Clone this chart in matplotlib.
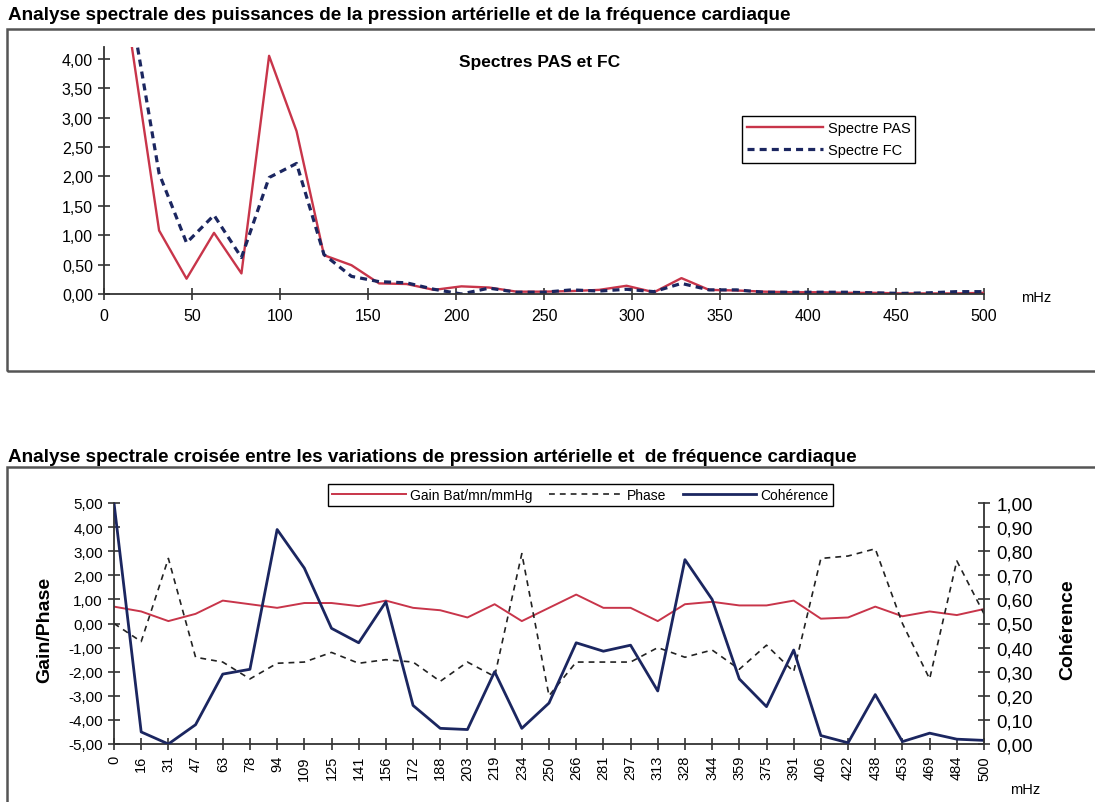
import matplotlib
matplotlib.use("Agg")
import matplotlib.pyplot as plt
from matplotlib.patches import Rectangle

plt.rcParams['font.family'] = ['Liberation Sans', 'DejaVu Sans']

# --- spectres de puissance (graphique du haut) ---
freq_mhz = [15.6, 31.3, 46.9, 62.5, 78.1, 93.8, 109.4, 125.0, 140.6, 156.3, 171.9, 187.5,
            203.1, 218.8, 234.4, 250.0, 265.6, 281.3, 296.9, 312.5, 328.1, 343.8, 359.4,
            375.0, 390.6, 406.3, 421.9, 437.5, 453.1, 468.8, 484.4, 500.0]
spectre_pas = [4.25, 1.08, 0.26, 1.04, 0.35, 4.05, 2.77, 0.66, 0.49, 0.18, 0.17, 0.07,
               0.13, 0.11, 0.04, 0.04, 0.05, 0.07, 0.14, 0.03, 0.27, 0.07, 0.06, 0.04,
               0.03, 0.03, 0.02, 0.02, 0.01, 0.01, 0.01, 0.02]
spectre_fc = [4.8, 2.05, 0.87, 1.34, 0.62, 1.98, 2.22, 0.67, 0.30, 0.21, 0.19, 0.08,
              0.0, 0.10, 0.03, 0.03, 0.07, 0.05, 0.08, 0.04, 0.18, 0.07, 0.07, 0.03,
              0.03, 0.03, 0.03, 0.02, 0.01, 0.02, 0.04, 0.04]

# --- analyse croisee (graphique du bas) ---
categories = ["0", "16", "31", "47", "63", "78", "94", "109", "125", "141", "156", "172",
              "188", "203", "219", "234", "250", "266", "281", "297", "313", "328", "344",
              "359", "375", "391", "406", "422", "438", "453", "469", "484", "500"]
gain = [0.7, 0.5, 0.1, 0.4, 0.95, 0.8, 0.65, 0.85, 0.85, 0.72, 0.95, 0.65, 0.55, 0.25,
        0.8, 0.1, 0.65, 1.2, 0.65, 0.65, 0.1, 0.8, 0.9, 0.75, 0.75, 0.95, 0.2, 0.25,
        0.7, 0.3, 0.5, 0.35, 0.6]
phase = [0.0, -0.75, 2.7, -1.4, -1.6, -2.3, -1.65, -1.6, -1.2, -1.65, -1.5, -1.6, -2.4,
         -1.6, -2.2, 2.9, -3.0, -1.6, -1.6, -1.6, -1.0, -1.4, -1.1, -1.9, -0.9, -2.0,
         2.7, 2.8, 3.1, 0.0, -2.3, 2.6, 0.4]
coherence = [1.0, 0.05, 0.0, 0.08, 0.29, 0.31, 0.89, 0.73, 0.48, 0.42, 0.59, 0.16, 0.065,
             0.06, 0.30, 0.065, 0.17, 0.42, 0.385, 0.41, 0.22, 0.765, 0.60, 0.27, 0.155,
             0.39, 0.035, 0.005, 0.205, 0.01, 0.045, 0.02, 0.015]

W, H = 1095, 803
RED = '#c8354a'
NAVY = '#1b2660'
AXC = '#333333'


def fx(px):
    return px / W


def fy(py):
    return 1 - py / H


def virgule(v):
    return f"{v:.2f}".replace('.', ',')


fig = plt.figure(figsize=(W / 100, H / 100), dpi=100)

# cadres des deux graphiques
for top, bottom in [(30, 372), (468, 812)]:
    fig.patches.append(Rectangle((fx(7), fy(bottom)), fx(1100) - fx(7), fy(top) - fy(bottom),
                                 transform=fig.transFigure, fill=False,
                                 edgecolor='#555555', linewidth=1.8, clip_on=False))

fig.text(fx(8), fy(15), "Analyse spectrale des puissances de la pression artérielle et de la fréquence cardiaque",
         fontsize=13.6, fontweight='bold', va='center', ha='left')
fig.text(fx(8), fy(457), "Analyse spectrale croisée entre les variations de pression artérielle et  de fréquence cardiaque",
         fontsize=13.6, fontweight='bold', va='center', ha='left')

# ---------------- graphique du haut ----------------
ax1 = fig.add_axes([fx(104), fy(295), fx(984) - fx(104), fy(48) - fy(295)])
ax1.plot(freq_mhz, spectre_pas, color=RED, linewidth=1.7, label='Spectre PAS')
ax1.plot(freq_mhz, spectre_fc, color=NAVY, linewidth=2.3, linestyle=(0, (2.2, 1.6)),
         label='Spectre FC')
ax1.set_xlim(0, 500)
ax1.set_ylim(0, 4.2)
ax1.set_yticks([0, 0.5, 1, 1.5, 2, 2.5, 3, 3.5, 4])
ax1.set_yticklabels([virgule(v) for v in ax1.get_yticks()])
ax1.set_xticks(range(0, 501, 50))
ax1.tick_params(direction='inout', length=8, width=1.2, color=AXC, labelsize=11.5, pad=4)
ax1.tick_params(axis='x', pad=6)
for s in ['top', 'right']:
    ax1.spines[s].set_visible(False)
for s in ['left', 'bottom']:
    ax1.spines[s].set_color(AXC)
    ax1.spines[s].set_linewidth(1.3)
ax1.patch.set_alpha(0)
fig.text(fx(1036), fy(298), "mHz", fontsize=10.5, va='center', ha='center')
fig.text(fx(540), fy(62), "Spectres PAS et FC", fontsize=12.5, fontweight='bold',
         va='center', ha='center')
leg1 = ax1.legend(loc='upper left', bbox_to_anchor=(fx(735), fy(110)),
                  bbox_transform=fig.transFigure, fontsize=10.5, handlelength=5.2,
                  handletextpad=0.3, borderpad=0.35, labelspacing=0.55,
                  fancybox=False, framealpha=1)
leg1.get_frame().set_edgecolor('black')
leg1.get_frame().set_linewidth(1.0)

# ---------------- graphique du bas ----------------
pos = list(range(len(categories)))
ax2 = fig.add_axes([fx(114), fy(745), fx(984) - fx(114), fy(504) - fy(745)])
l_gain, = ax2.plot(pos, gain, color=RED, linewidth=1.4, label='Gain Bat/mn/mmHg')
l_phase, = ax2.plot(pos, phase, color='#222222', linewidth=1.2, linestyle=(0, (3.5, 3)),
                    label='Phase')
ax2.set_xlim(0, len(categories) - 1)
ax2.set_ylim(-5, 5)
ax2.set_yticks(range(-5, 6))
ax2.set_yticklabels([virgule(v) for v in range(-5, 6)])
ax2.set_xticks(pos)
ax2.set_xticklabels(categories, rotation=90)
ax2.tick_params(direction='inout', length=8, width=1.2, color=AXC, labelsize=11, pad=4)
ax2.tick_params(axis='x', labelsize=10.5)
ax2.spines['top'].set_visible(False)
ax2.spines['right'].set_visible(False)
for s in ['left', 'bottom']:
    ax2.spines[s].set_color(AXC)
    ax2.spines[s].set_linewidth(1.3)

ax3 = ax2.twinx()
l_coh, = ax3.plot(pos, coherence, color=NAVY, linewidth=2.0, label='Cohérence')
ax3.set_ylim(0, 1)
ax3.set_yticks([i / 10 for i in range(11)])
ax3.set_yticklabels([virgule(i / 10) for i in range(11)])
ax3.tick_params(direction='inout', length=8, width=1.2, color=AXC, labelsize=13.5, pad=5)
ax3.spines['top'].set_visible(False)
ax3.spines['left'].set_visible(False)
ax3.spines['bottom'].set_visible(False)
ax3.spines['right'].set_color(AXC)
ax3.spines['right'].set_linewidth(1.3)

fig.text(fx(45), fy(630), "Gain/Phase", fontsize=14, fontweight='bold', rotation=90,
         va='center', ha='center')
fig.text(fx(1068), fy(630), "Cohérence", fontsize=14, fontweight='bold', rotation=90,
         va='center', ha='center')
fig.text(fx(1025), fy(790), "mHz", fontsize=10.5, va='center', ha='center')

leg2 = ax3.legend([l_gain, l_phase, l_coh], ['Gain Bat/mn/mmHg', 'Phase', 'Cohérence'],
                  loc='upper left', bbox_to_anchor=(fx(321), fy(478)),
                  bbox_transform=fig.transFigure, ncol=3, fontsize=10,
                  handlelength=5.3, handletextpad=0.3, columnspacing=1.2,
                  borderpad=0.3, fancybox=False, framealpha=1)
leg2.get_frame().set_edgecolor('black')
leg2.get_frame().set_linewidth(1.0)

fig.savefig("out.png", dpi=100)
